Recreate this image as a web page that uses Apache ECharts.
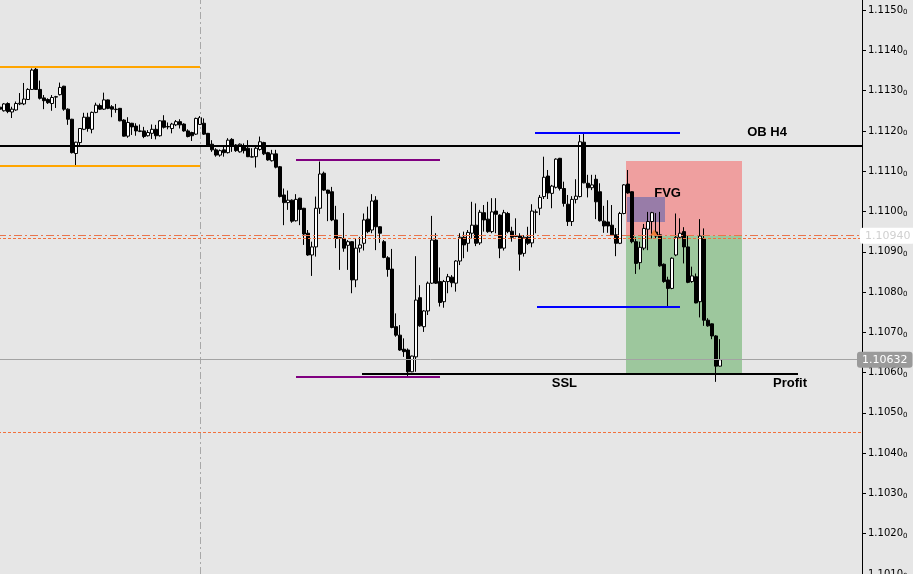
<!DOCTYPE html>
<html>
<head>
<meta charset="utf-8">
<script src="https://cdn.jsdelivr.net/npm/echarts@6/dist/echarts.min.js"></script>
<style>
html,body{margin:0;padding:0;background:#e6e6e6;}
#c{width:913px;height:574px;}
</style>
</head>
<body>
<div id="c"></div>
<script>
// ---- candle data ----
const opens = [1.11259,1.11250,1.11268,1.11247,1.11252,1.11267,1.11267,1.11278,1.11303,1.11353,1.11303,1.11282,1.11278,1.11268,1.11284,1.11290,1.11311,1.11254,1.11229,1.11144,1.11171,1.11204,1.11234,1.11204,1.11246,1.11263,1.11254,1.11277,1.11260,1.11253,1.11256,1.11227,1.11187,1.11219,1.11212,1.11200,1.11200,1.11188,1.11194,1.11204,1.11188,1.11225,1.11210,1.11206,1.11215,1.11223,1.11217,1.11200,1.11196,1.11192,1.11216,1.11219,1.11194,1.11167,1.11153,1.11140,1.11153,1.11146,1.11179,1.11165,1.11148,1.11163,1.11157,1.11135,1.11136,1.11154,1.11171,1.11146,1.11126,1.11143,1.11111,1.11041,1.11022,1.11028,1.10977,1.11033,1.11008,1.10946,1.10892,1.10912,1.11008,1.11095,1.11053,1.11049,1.10979,1.10935,1.10933,1.10916,1.10925,1.10830,1.10909,1.10921,1.10981,1.10954,1.11028,1.10962,1.10925,1.10885,1.10857,1.10714,1.10693,1.10658,1.10656,1.10602,1.10639,1.10786,1.10714,1.10753,1.10822,1.10929,1.10826,1.10776,1.10826,1.10837,1.10822,1.10877,1.10936,1.10921,1.10946,1.10966,1.10922,1.10997,1.10981,1.10950,1.11001,1.10991,1.10909,1.10995,1.10951,1.10939,1.10939,1.10896,1.10936,1.10922,1.10998,1.11008,1.11037,1.11088,1.11045,1.11060,1.11132,1.11057,1.11018,1.10975,1.11030,1.11037,1.11172,1.11070,1.11059,1.11080,1.11049,1.10976,1.10974,1.10966,1.10942,1.10921,1.10995,1.11068,1.11049,1.10925,1.10873,1.10909,1.10956,1.10975,1.10949,1.10942,1.10869,1.10830,1.10809,1.10892,1.10936,1.10950,1.10912,1.10826,1.10838,1.10776,1.10933,1.10730,1.10721,1.10691,1.10616];
const closes = [1.11254,1.11267,1.11248,1.11254,1.11268,1.11269,1.11279,1.11303,1.11351,1.11303,1.11281,1.11275,1.11270,1.11283,1.11285,1.11308,1.11254,1.11229,1.11146,1.11172,1.11206,1.11234,1.11206,1.11246,1.11264,1.11254,1.11277,1.11256,1.11254,1.11254,1.11225,1.11187,1.11221,1.11210,1.11200,1.11199,1.11186,1.11196,1.11204,1.11188,1.11225,1.11209,1.11211,1.11217,1.11223,1.11215,1.11200,1.11186,1.11188,1.11231,1.11233,1.11192,1.11165,1.11153,1.11140,1.11151,1.11146,1.11177,1.11163,1.11151,1.11167,1.11151,1.11136,1.11136,1.11157,1.11173,1.11143,1.11128,1.11143,1.11110,1.11037,1.11022,1.11028,1.10976,1.11030,1.11005,1.10944,1.10892,1.10912,1.11008,1.11093,1.11053,1.11045,1.10979,1.10933,1.10934,1.10909,1.10925,1.10830,1.10909,1.10917,1.10979,1.10950,1.11026,1.10962,1.10946,1.10886,1.10856,1.10712,1.10693,1.10656,1.10652,1.10602,1.10641,1.10780,1.10716,1.10753,1.10822,1.10929,1.10822,1.10774,1.10826,1.10838,1.10823,1.10877,1.10936,1.10917,1.10948,1.10966,1.10921,1.10998,1.10979,1.10950,1.10999,1.10993,1.10909,1.10997,1.10950,1.10936,1.10938,1.10894,1.10936,1.10921,1.11001,1.10999,1.11035,1.11085,1.11046,1.11063,1.11130,1.11057,1.11020,1.10975,1.11030,1.11038,1.11173,1.11071,1.11059,1.11066,1.11024,1.10977,1.10964,1.10964,1.10942,1.10921,1.10995,1.11066,1.11046,1.10925,1.10871,1.10911,1.10958,1.10975,1.10997,1.10939,1.10865,1.10826,1.10809,1.10884,1.10936,1.10946,1.10912,1.10824,1.10840,1.10773,1.10939,1.10730,1.10716,1.10691,1.10616,1.10632];
const lows = [1.11252,1.11248,1.11244,1.11232,1.11250,1.11264,1.11264,1.11277,1.11302,1.11302,1.11278,1.11254,1.11267,1.11250,1.11257,1.11288,1.11250,1.11215,1.11144,1.11115,1.11165,1.11202,1.11198,1.11194,1.11244,1.11252,1.11252,1.11254,1.11234,1.11245,1.11224,1.11186,1.11183,1.11190,1.11188,1.11197,1.11182,1.11186,1.11180,1.11179,1.11186,1.11206,1.11204,1.11194,1.11212,1.11206,1.11198,1.11184,1.11175,1.11190,1.11215,1.11190,1.11163,1.11148,1.11136,1.11136,1.11136,1.11144,1.11148,1.11148,1.11146,1.11144,1.11135,1.11134,1.11109,1.11151,1.11140,1.11126,1.11124,1.11107,1.11035,1.10966,1.11004,1.10972,1.10975,1.10966,1.10917,1.10890,1.10840,1.10888,1.10994,1.11051,1.10976,1.10976,1.10909,1.10855,1.10900,1.10855,1.10797,1.10812,1.10898,1.10903,1.10946,1.10946,1.10904,1.10922,1.10884,1.10838,1.10710,1.10689,1.10654,1.10639,1.10591,1.10601,1.10602,1.10714,1.10701,1.10743,1.10820,1.10820,1.10764,1.10761,1.10797,1.10812,1.10801,1.10867,1.10884,1.10900,1.10933,1.10914,1.10917,1.10950,1.10947,1.10946,1.10946,1.10884,1.10903,1.10946,1.10925,1.10936,1.10853,1.10888,1.10917,1.10911,1.10946,1.10991,1.11031,1.11031,1.11008,1.11057,1.11052,1.11012,1.10964,1.10964,1.11020,1.11035,1.11070,1.11035,1.11053,1.10981,1.10975,1.10947,1.10947,1.10941,1.10889,1.10919,1.10993,1.11044,1.10921,1.10845,1.10856,1.10904,1.10904,1.10933,1.10934,1.10863,1.10823,1.10764,1.10807,1.10889,1.10933,1.10871,1.10822,1.10823,1.10772,1.10737,1.10716,1.10714,1.10683,1.10577,1.10615];
const highs = [1.11264,1.11269,1.11271,1.11260,1.11273,1.11294,1.11319,1.11306,1.11355,1.11358,1.11325,1.11289,1.11281,1.11289,1.11287,1.11320,1.11312,1.11256,1.11230,1.11173,1.11207,1.11245,1.11245,1.11248,1.11270,1.11268,1.11295,1.11278,1.11264,1.11267,1.11257,1.11229,1.11234,1.11220,1.11219,1.11216,1.11210,1.11202,1.11216,1.11215,1.11227,1.11239,1.11221,1.11220,1.11227,1.11229,1.11219,1.11204,1.11198,1.11233,1.11237,1.11231,1.11195,1.11177,1.11157,1.11154,1.11161,1.11182,1.11182,1.11167,1.11169,1.11169,1.11177,1.11157,1.11161,1.11186,1.11173,1.11148,1.11153,1.11153,1.11113,1.11057,1.11052,1.11030,1.11043,1.11034,1.11009,1.10954,1.10925,1.11037,1.11124,1.11099,1.11054,1.11061,1.11014,1.10937,1.10996,1.10929,1.10926,1.10933,1.10937,1.10995,1.11012,1.11043,1.11038,1.10963,1.10929,1.10889,1.10907,1.10747,1.10718,1.10685,1.10660,1.10642,1.10889,1.10817,1.10755,1.10826,1.10989,1.10946,1.10861,1.10830,1.10845,1.10842,1.10879,1.10946,1.10950,1.10954,1.11024,1.11020,1.11004,1.11016,1.11024,1.11033,1.11033,1.10993,1.11004,1.10999,1.10962,1.10983,1.10946,1.10941,1.10962,1.11018,1.11005,1.11041,1.11136,1.11103,1.11066,1.11132,1.11133,1.11074,1.11041,1.11038,1.11080,1.11190,1.11195,1.11091,1.11091,1.11091,1.11070,1.11014,1.11028,1.11016,1.10959,1.10999,1.11068,1.11103,1.11050,1.10936,1.10925,1.10969,1.10999,1.10999,1.10996,1.10999,1.10871,1.10838,1.10886,1.10995,1.10983,1.10961,1.10941,1.10863,1.10846,1.10981,1.10958,1.10735,1.10722,1.10693,1.10683];

// ---- axis / levels ----
const slotCount = 216;                       // bar slots across the plot
const slotMin = -0.5, slotMax = slotCount - 0.5;
const priceMin = 1.1010, priceMax = 1.11525, priceStep = 0.0010;
const separatorBar = 50;
const orangeTop = 1.11359, orangeBottom = 1.11113, orangeFrom = 0, orangeTo = 50;
const obH4 = 1.11162;
const purpleTop = 1.11128, purpleBottom = 1.10589, purpleFrom = 74, purpleTo = 110;
const sslLevel = 1.10596, sslFrom = 90.5, sslTo = 199.5;
const blueTop = 1.11195, blueTopFrom = 133.75, blueBottom = 1.10763, blueBottomFrom = 134.25, blueTo = 170;
const currentPrice = 1.10632;
const entryPrice = 1.10940, entryPrice2 = 1.10934;
const lowerDashed = 1.10452;
const riskTop = 1.11125, boxFrom = 156.5, boxTo = 185.5;
const fvgTop = 1.11036, fvgBottom = 1.10974, fvgFrom = 156.75, fvgTo = 166.25;
const entryArrow = [163.5, 1.10948];
const texts = [
  {t: 'OB H4', x: 191.75, y: 1.11197},
  {t: 'FVG', x: 166.9, y: 1.11046},
  {t: 'SSL', x: 141.1, y: 1.10574},
  {t: 'Profit', x: 197.5, y: 1.10572}
];

const categories = Array.from({length: slotCount}, (_, i) => String(i));
const candles = opens.map((o, i) => [o, closes[i], lows[i], highs[i]]);

const chart = echarts.init(document.getElementById('c'), null, {renderer: 'canvas'});
const seg = (x1, x2, y, lineStyle, label) => [
  {coord: [x1, y], lineStyle: lineStyle, label: label || {show: false}},
  {coord: [x2, y]}
];
const hline = (y, lineStyle, label) => seg(slotMin, slotMax, y, lineStyle, label);
const tag = (text, color, bg, dist) => ({
  show: true, position: 'end', distance: dist, formatter: text, color: color,
  backgroundColor: bg, borderRadius: 3, padding: [3, 5, 2, 5], fontSize: 11, fontFamily: 'DejaVu Sans'
});

chart.setOption({
  backgroundColor: '#e6e6e6',
  animation: false,
  grid: {left: -2, right: 51, top: 0, bottom: 0, containLabel: false, outerBoundsMode: 'none'},
  xAxis: [
    {type: 'category', data: categories, boundaryGap: true, show: false},
    {type: 'value', min: slotMin, max: slotMax, show: false}
  ],
  yAxis: {
    type: 'value', position: 'right', min: priceMin, max: priceMax, interval: priceStep,
    axisLine: {show: true, onZero: false, lineStyle: {color: '#000', width: 1}},
    axisTick: {show: true, length: 4, lineStyle: {color: '#000'}},
    splitLine: {show: false},
    axisLabel: {
      margin: 6, showMaxLabel: false,
      formatter: function (v) {
        const k = Math.round(v * 1000);
        if (Math.abs(v * 1000 - k) > 1e-6) return '';
        return '{a|' + (k / 1000).toFixed(4) + '}{b|0}';
      },
      rich: {
        a: {fontSize: 10, fontFamily: 'DejaVu Sans', color: '#000', lineHeight: 12},
        b: {fontSize: 7, fontFamily: 'DejaVu Sans', color: '#000', lineHeight: 8, verticalAlign: 'bottom'}
      }
    }
  },
  series: [
    {
      type: 'candlestick', xAxisIndex: 0, data: candles, barWidth: 3, z: 3,
      itemStyle: {color: '#ffffff', color0: '#000000', borderColor: '#000000', borderColor0: '#000000', borderWidth: 1}
    },
    {
      // background reference lines
      type: 'line', xAxisIndex: 1, data: [], z: 2, silent: true,
      markLine: {
        symbol: ['none', 'none'], silent: true, label: {show: false},
        data: [
          [{coord: [separatorBar, priceMin], lineStyle: {color: '#a8a8a8', width: 1, type: [7, 3, 2, 3]}},
           {coord: [separatorBar, priceMax]}],
          hline(currentPrice, {color: '#a3a3a3', width: 1, type: 'solid'}, tag('1.10632', '#ffffff', '#9a9a9a', -5)),
          hline(entryPrice, {color: '#e7744e', width: 1, type: [8, 3, 2, 3]}, tag('1.10940', '#d0d0d0', '#ffffff', -2)),
          hline(entryPrice2, {color: '#f2703c', width: 1, type: [3, 2]}),
          hline(lowerDashed, {color: '#f2703c', width: 1, type: [3, 2]})
        ]
      }
    },
    {
      // risk / reward boxes and FVG
      type: 'line', xAxisIndex: 1, data: [], z: 5, silent: true,
      markArea: {
        silent: true,
        data: [
          [{coord: [boxFrom, riskTop], itemStyle: {color: 'rgba(255,45,45,0.38)'}}, {coord: [boxTo, entryPrice]}],
          [{coord: [boxFrom, entryPrice], itemStyle: {color: 'rgba(40,150,40,0.38)'}}, {coord: [boxTo, sslLevel]}],
          [{coord: [fvgFrom, fvgTop], itemStyle: {color: 'rgba(80,95,175,0.55)'}}, {coord: [fvgTo, fvgBottom]}]
        ]
      }
    },
    {
      // drawn objects
      type: 'line', xAxisIndex: 1, data: [], z: 6, silent: true,
      markLine: {
        symbol: ['none', 'none'], silent: true, label: {show: false},
        data: [
          hline(obH4, {color: '#000', width: 2, type: 'solid'}),
          seg(orangeFrom, orangeTo, orangeTop, {color: '#ffa500', width: 2, type: 'solid'}),
          seg(orangeFrom, orangeTo, orangeBottom, {color: '#ffa500', width: 2, type: 'solid'}),
          seg(purpleFrom, purpleTo, purpleTop, {color: '#800080', width: 2, type: 'solid'}),
          seg(purpleFrom, purpleTo, purpleBottom, {color: '#800080', width: 2, type: 'solid'}),
          seg(sslFrom, sslTo, sslLevel, {color: '#000000', width: 2, type: 'solid'}),
          seg(blueTopFrom, blueTo, blueTop, {color: '#0000ff', width: 2, type: 'solid'}),
          seg(blueBottomFrom, blueTo, blueBottom, {color: '#0000ff', width: 2, type: 'solid'})
        ]
      },
      markPoint: {
        silent: true,
        data: texts.map(d => ({
          coord: [d.x, d.y], symbol: 'rect', symbolSize: 1, itemStyle: {color: 'rgba(0,0,0,0)'},
          label: {show: true, position: 'inside', formatter: d.t, color: '#000', fontWeight: 'bold',
            fontSize: 13, fontFamily: 'Liberation Sans'}
        })).concat([{
          coord: entryArrow, symbol: 'triangle', symbolSize: [7, 6], itemStyle: {color: '#f0803c'}, label: {show: false}
        }])
      }
    }
  ]
});
</script>
</body>
</html>
